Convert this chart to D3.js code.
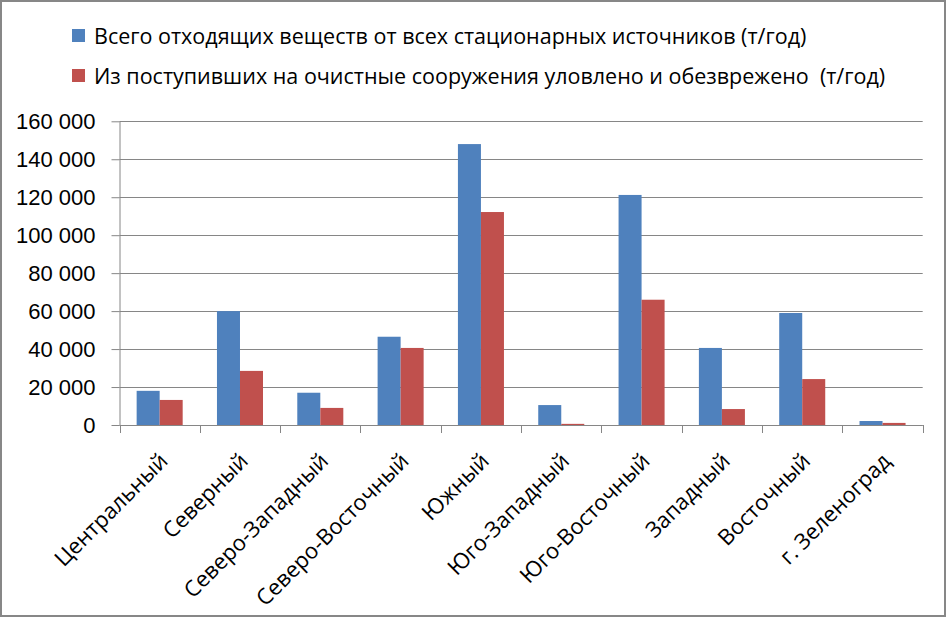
<!DOCTYPE html>
<html><head><meta charset="utf-8">
<script src="https://cdn.jsdelivr.net/npm/d3@7"></script>
<style>body{margin:0;background:#fff}svg{display:block}</style>
</head><body>
<svg id="c" width="947" height="618"></svg>
<script>
const categories = ["Центральный","Северный","Северо-Западный","Северо-Восточный","Южный","Юго-Западный","Юго-Восточный","Западный","Восточный","г. Зеленоград"];
const seriesNames = ["Всего отходящих веществ от всех стационарных источников (т/год)","Из поступивших на очистные сооружения уловлено и обезврежено  (т/год)"];
const totalValues = [18000,60000,17000,46500,148000,10500,121200,40600,59000,2100];
const capturedValues = [13200,28500,9000,40600,112200,600,66000,8400,24200,1100];
const yTicks = [0,20000,40000,60000,80000,100000,120000,140000,160000];
const colors = ["#4F81BD","#C0504D"];

const svg = d3.select("#c");
const font = "'Open Sans', sans-serif";
svg.append("rect").attr("x",1).attr("y",1).attr("width",944).attr("height",615)
  .attr("fill","#fff").attr("stroke","#878787").attr("stroke-width",2);

const L=119.5, R=922.7, T=121.3, B=425;
const x0 = d3.scaleBand().domain(categories).range([L,R]).padding(0);
const x1 = d3.scaleBand().domain([0,1]).range([0,x0.bandwidth()]).paddingInner(0).paddingOuter(0.745);
const y = d3.scaleLinear().domain([0,160000]).range([B,T]);
const fmt = v => d3.format(",")(v).replace(/,/g," ");

// gridlines
svg.append("g").selectAll("line").data(yTicks).join("line")
  .attr("x1",L).attr("x2",R).attr("y1",d=>Math.round(y(d))+0.5).attr("y2",d=>Math.round(y(d))+0.5)
  .attr("stroke","#868686").attr("stroke-width",1);

// bars
const data = categories.map((c,i)=>({c, v:[totalValues[i],capturedValues[i]]}));
const g = svg.append("g");
g.selectAll("g").data(data).join("g")
  .attr("transform",d=>`translate(${x0(d.c)},0)`)
  .selectAll("rect").data(d=>d.v.map((v,k)=>({v,k}))).join("rect")
  .attr("x",d=>x1(d.k)).attr("width",x1.bandwidth())
  .attr("y",d=>y(d.v)).attr("height",d=>B-y(d.v))
  .attr("fill",d=>colors[d.k]);

// y axis
const ya = svg.append("g").attr("transform",`translate(${L},0)`)
  .call(d3.axisLeft(y).tickValues(yTicks).tickFormat(fmt).tickSize(8).tickPadding(16));
ya.select(".domain").attr("stroke","#868686").attr("d",`M0.5,${T}V${B}`);
ya.selectAll(".tick line").attr("stroke","#868686");
ya.selectAll(".tick text").attr("font-family","'Liberation Sans', Arial, sans-serif").attr("font-size",22).attr("fill","#000");

// x axis
const xa = svg.append("g").attr("transform",`translate(0,${B})`);
xa.append("line").attr("x1",L).attr("x2",R).attr("y1",0.5).attr("y2",0.5).attr("stroke","#868686");
const edges = categories.map(c=>x0(c)).concat([R]);
xa.selectAll("line.t").data(edges).join("line").attr("class","t")
  .attr("x1",d=>Math.round(d)+0.5).attr("x2",d=>Math.round(d)+0.5).attr("y1",0).attr("y2",8).attr("stroke","#868686");
xa.selectAll("text").data(categories).join("text")
  .attr("transform",d=>`translate(${x0(d)+x0.bandwidth()/2+4},${32}) rotate(-45)`)
  .attr("text-anchor","end").attr("dy","0.35em")
  .attr("font-family",font).attr("font-size",22).attr("fill","#000").text(d=>d);

// legend
const lg = svg.append("g");
seriesNames.forEach((n,i)=>{
  const yy = 36 + i*40;
  lg.append("rect").attr("x",72).attr("y",yy-7).attr("width",13).attr("height",13).attr("fill",colors[i]);
  lg.append("text").attr("x",94).attr("y",yy).attr("dy","0.35em").style("white-space","pre")
    .attr("font-family","'Liberation Sans Narrow','Open Sans',sans-serif").attr("font-size",21.5).attr("fill","#000").text(n);
});
</script>
</body></html>
